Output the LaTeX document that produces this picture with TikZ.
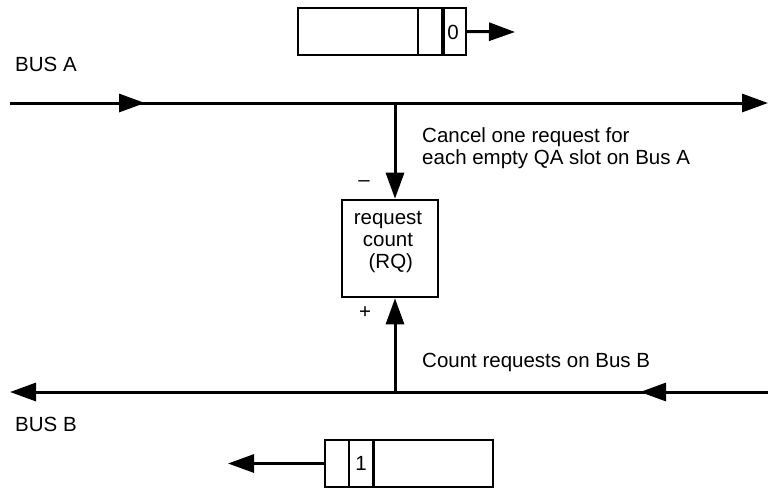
\documentclass[tikz,border=0pt]{standalone}
\usepackage{fontspec}
\setmainfont{Liberation Sans}
\usetikzlibrary{arrows.meta}
\begin{document}
\begin{tikzpicture}[x=1pt,y=-1pt,
  bus/.style={line width=3pt},
  tri/.style={-{Triangle[length=26pt,width=18pt]}},
  slot/.style={draw,line width=2.4pt},
  lbl/.style={font=\fontsize{20.5}{22}\selectfont,inner sep=0pt},
  counter/.style={draw,line width=2.6pt,minimum width=96pt,minimum height=97pt,inner sep=0pt}]
\useasboundingbox (0,0) rectangle (768,488);

% Bus A (left to right)
\coordinate (aL) at (10,103);
\coordinate (aM) at (145,103);
\coordinate (aJ) at (395,103);
\coordinate (aR) at (768,103);
\draw[bus,tri] (aL) -- (aR);
\draw[bus,tri] (aL) -- (aM);
\node[lbl,anchor=west] (busA) at (15,64) {BUS A};

% Bus B (right to left)
\coordinate (bR) at (768,392);
\coordinate (bM) at (640,392);
\coordinate (bJ) at (395,392);
\coordinate (bL) at (10,392);
\draw[bus,tri] (bR) -- (bL);
\draw[bus,tri] (bR) -- (bM);
\node[lbl,anchor=west] (busB) at (15,424) {BUS B};

% Request counter
\node[counter] (rq) at (390,248.5) {};
\node[lbl,align=center] (rqtext) at (388,242) {request\\count\\\ (RQ)};
\draw[bus,tri] (aJ) -- (aJ |- rq.north);
\draw[bus,tri] (bJ) -- (bJ |- rq.south);
\node[lbl] (minus) at (364,184) {\textendash};
\node[lbl] (plus) at (365,313) {+};

\node[lbl,anchor=west,align=left] (cancel) at (422,148) {Cancel one request for\\each empty QA slot on Bus A};
\node[lbl,anchor=west] (count) at (422,362) {Count requests on Bus B};

% Slot travelling on Bus A
\node[slot,minimum width=168pt,minimum height=47pt,inner sep=0pt] (slotA) at (382,31.5) {};
\draw[line width=1.6pt] (418,8) -- (418,55);
\draw[line width=3.4pt] (443,8) -- (443,55);
\node[lbl] (zero) at (453,32) {0};
\coordinate (slotAout) at (515,32);
\draw[bus,tri] (slotA.east) -- (slotAout);

% Slot travelling on Bus B
\node[slot,minimum width=168pt,minimum height=47pt,inner sep=0pt] (slotB) at (409,463.5) {};
\draw[line width=2.8pt] (349,440) -- (349,487);
\draw[line width=3pt] (373,440) -- (373,487);
\node[lbl] (one) at (361,463) {1};
\coordinate (slotBout) at (228,463.5);
\draw[bus,tri] (slotB.west) -- (slotBout);
\end{tikzpicture}
\end{document}
